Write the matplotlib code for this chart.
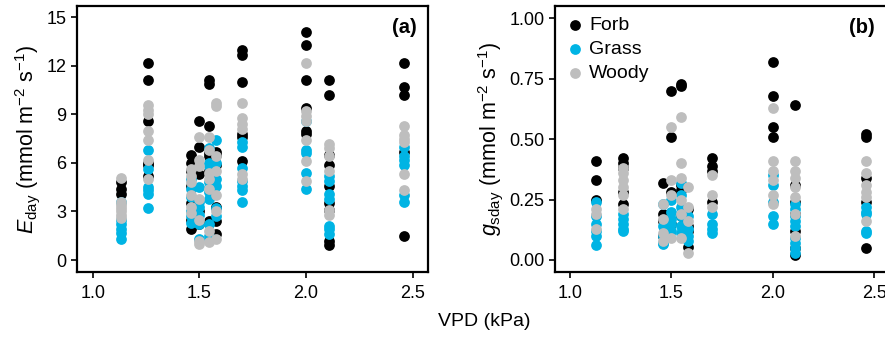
import matplotlib
matplotlib.use("Agg")
import matplotlib.pyplot as plt

plt.rcParams['font.family'] = ['Liberation Sans', 'DejaVu Sans']
plt.rcParams['mathtext.fontset'] = 'custom'
plt.rcParams['mathtext.rm'] = 'Liberation Sans'
plt.rcParams['mathtext.it'] = 'Liberation Sans:italic'

# VPD levels (kPa) at which the plants were measured
vpd = [1.13, 1.26, 1.46, 1.50, 1.545, 1.58, 1.70, 2.00, 2.11, 2.46]

# daily transpiration E_day (mmol m-2 s-1), one list per VPD level
forb_eday = [[4.8, 4.4, 4.1], [12.2, 11.1, 8.6, 6.0, 5.9, 5.2],
             [6.5, 6.0, 5.5, 4.6, 3.5, 2.5, 1.9], [8.6, 7.0, 5.3, 3.0, 2.2],
             [11.1, 10.9, 8.3, 6.6, 6.4, 5.5, 2.4], [6.7, 6.5, 5.9, 3.3, 2.4, 1.6],
             [13.0, 12.7, 11.0, 7.8, 7.6, 6.1], [14.1, 13.3, 11.1, 9.4, 8.0, 7.8],
             [11.1, 10.2, 6.5, 5.9, 4.6, 3.5, 3.1, 1.2, 0.9], [12.2, 10.7, 10.2, 6.7, 1.5]]
grass_eday = [[3.6, 2.5, 2.2, 1.9, 1.7, 1.3], [6.8, 5.6, 4.5, 4.3, 4.1, 3.2],
              [5.0, 4.4, 3.9, 3.0, 2.7, 2.3], [4.5, 3.6, 3.3, 2.8, 2.2, 1.3],
              [6.9, 6.0, 5.8, 4.8, 4.2, 3.8, 2.2, 1.5], [7.4, 6.0, 5.0, 4.6, 3.2, 2.7],
              [7.3, 7.0, 5.7, 4.9, 4.6, 4.3, 3.6], [8.6, 6.8, 6.6, 5.4, 4.4],
              [5.2, 4.9, 4.1, 3.8, 2.1, 1.9, 1.6], [7.0, 6.4, 6.2, 5.9, 4.0, 3.6]]
woody_eday = [[5.1, 3.6, 3.4, 3.2, 3.0, 2.8, 2.6], [9.6, 9.3, 9.0, 8.0, 7.4, 6.2, 5.0],
              [5.6, 5.2, 4.8, 4.0, 3.3, 2.9], [7.6, 6.2, 5.8, 3.8, 2.5, 1.2, 1.0],
              [7.6, 6.8, 5.4, 5.0, 4.4, 1.8, 1.1], [9.7, 9.5, 6.4, 5.5, 4.0, 3.0, 1.3],
              [9.7, 8.8, 8.4, 8.1, 5.3, 5.0], [12.2, 9.2, 8.9, 8.6, 7.4, 6.1, 4.9],
              [7.2, 6.9, 6.4, 5.5, 3.1, 2.8], [8.3, 7.7, 7.5, 7.3, 5.3, 4.3]]

# daily stomatal conductance g_sday (mmol m-2 s-1)
forb_gs = [[0.41, 0.33, 0.25], [0.42, 0.40, 0.38, 0.28, 0.23],
           [0.32, 0.19, 0.16, 0.10], [0.70, 0.51, 0.28, 0.15],
           [0.73, 0.72, 0.31, 0.29, 0.18], [0.21, 0.14, 0.12, 0.055],
           [0.42, 0.39, 0.37, 0.24], [0.82, 0.68, 0.55, 0.51],
           [0.64, 0.31, 0.24, 0.19, 0.12, 0.05, 0.02], [0.52, 0.51, 0.34, 0.24, 0.05]]
grass_gs = [[0.24, 0.18, 0.15, 0.12, 0.10, 0.06], [0.19, 0.17, 0.15, 0.13, 0.12],
            [0.23, 0.14, 0.10, 0.07, 0.065], [0.25, 0.20, 0.17, 0.15, 0.12],
            [0.32, 0.27, 0.22, 0.18, 0.14, 0.11], [0.18, 0.13, 0.10, 0.08],
            [0.19, 0.15, 0.13, 0.11], [0.35, 0.31, 0.24, 0.18, 0.15],
            [0.23, 0.21, 0.18, 0.16, 0.14, 0.09, 0.07, 0.05, 0.03], [0.22, 0.20, 0.19, 0.12, 0.11]]
woody_gs = [[0.21, 0.19, 0.13], [0.38, 0.36, 0.33, 0.30, 0.27, 0.21],
            [0.23, 0.17, 0.11, 0.08], [0.55, 0.33, 0.27, 0.09],
            [0.59, 0.40, 0.34, 0.25, 0.19, 0.09], [0.30, 0.22, 0.16, 0.03],
            [0.35, 0.27, 0.22], [0.63, 0.41, 0.37, 0.33, 0.27, 0.23],
            [0.41, 0.37, 0.34, 0.30, 0.26, 0.19, 0.10], [0.41, 0.36, 0.31, 0.28, 0.26, 0.16]]

groups = ['Forb', 'Grass', 'Woody']
colors = ['#000000', '#00B4E4', '#BEBEBE']


def flatten(levels, values):
    xs, ys = [], []
    for x, vals in zip(levels, values):
        xs += [x] * len(vals)
        ys += vals
    return xs, ys


fig = plt.figure(figsize=(8.85, 3.37), dpi=100)
ax1 = fig.add_axes([77 / 885, 65 / 337, 351 / 885, 266 / 337])
ax2 = fig.add_axes([555 / 885, 65 / 337, 334 / 885, 266 / 337])

for ax, data in [(ax1, [forb_eday, grass_eday, woody_eday]),
                 (ax2, [forb_gs, grass_gs, woody_gs])]:
    for name, col, vals in zip(groups, colors, data):
        xs, ys = flatten(vpd, vals)
        ax.scatter(xs, ys, s=60, color=col, linewidths=0, label=name, zorder=3)
    ax.set_xlim(0.926, 2.572)
    ax.set_xticks([1.0, 1.5, 2.0, 2.5])
    ax.tick_params(direction='out', length=4.5, width=1.2, labelsize=13, pad=3)
    ax.tick_params(axis='x', pad=4.5)
    for sp in ax.spines.values():
        sp.set_linewidth(1.6)

ax1.set_ylim(-0.74, 15.7)
ax1.set_yticks([0, 3, 6, 9, 12, 15])
ax1.set_ylabel(r'$E_{\mathrm{day}}$ (mmol m$^{-2}$ s$^{-1}$)', fontsize=15.5, labelpad=3)
ax1.text(0.969, 0.955, '(a)', transform=ax1.transAxes, ha='right', va='top',
         fontsize=14.5, fontweight='bold')

ax2.set_ylim(-0.0497, 1.051)
ax2.set_yticks([0, 0.25, 0.5, 0.75, 1.0])
ax2.set_yticklabels(['0.00', '0.25', '0.50', '0.75', '1.00'])
ax2.set_ylabel(r'$g_{\mathrm{sday}}$ (mmol m$^{-2}$ s$^{-1}$)', fontsize=15.5, labelpad=3)
ax2.text(0.958, 0.955, '(b)', transform=ax2.transAxes, ha='right', va='top',
         fontsize=14.5, fontweight='bold')
ax2.legend(loc='upper left', bbox_to_anchor=(0.0, 1.0), frameon=False, fontsize=14,
           handlelength=1.0, handletextpad=0.2, labelspacing=0.33,
           borderaxespad=0.25, borderpad=0.3, markerscale=1.0)

fig.text(484 / 885, 1 - 322 / 337, 'VPD (kPa)', ha='center', va='center', fontsize=14)

fig.savefig('out.png', dpi=100)
